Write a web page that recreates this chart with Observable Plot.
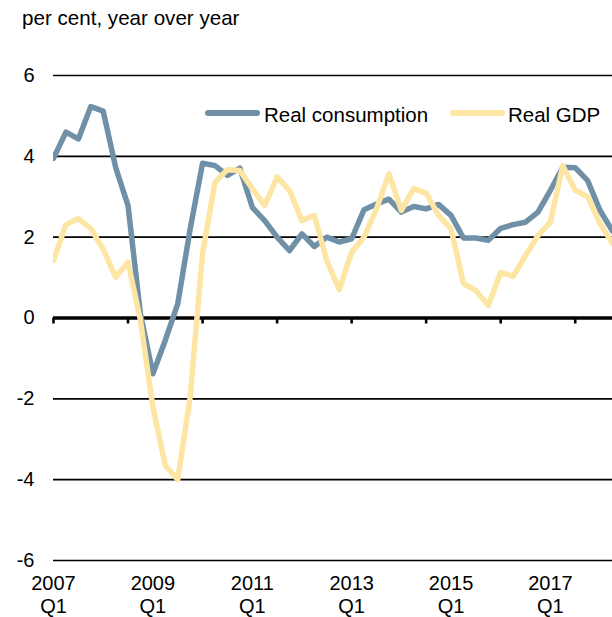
<!DOCTYPE html>
<html>
<head>
<meta charset="utf-8">
<script src="https://cdn.jsdelivr.net/npm/d3@7"></script>
<script src="https://cdn.jsdelivr.net/npm/@observablehq/plot@0.6"></script>
<style>
  html, body { margin: 0; padding: 0; background: #fff; }
  #wrap { position: relative; width: 612px; height: 617px; font-family: "Liberation Sans", Arial, sans-serif; color: #000; overflow: hidden; }
  #title { position: absolute; left: 22px; top: 6px; font-size: 20.6px; line-height: 23px; white-space: nowrap; }
  #chart { position: absolute; left: 0; top: 40px; }
  .lg-sw { position: absolute; height: 6px; border-radius: 3px; }
  .lg-tx { position: absolute; font-size: 20.5px; line-height: 23px; white-space: nowrap; }
</style>
</head>
<body>
<div id="wrap">
  <div id="title">per cent, year over year</div>
  <div id="chart"></div>
  <div id="legend"></div>
</div>
<script>
// ---- data ----
const startYear = 2007;
const nPoints = 46;
const quarters = [];
for (let k = 0; k < nPoints; k++) {
  quarters.push({ year: startYear + Math.floor(k / 4), q: (k % 4) + 1 });
}
const consumption = [3.95, 4.60, 4.43, 5.23, 5.12, 3.73, 2.78, 0.10, -1.38, -0.55,
  0.35, 2.20, 3.83, 3.77, 3.53, 3.71, 2.74, 2.41, 2.00, 1.67,
  2.08, 1.77, 2.00, 1.88, 1.96, 2.68, 2.82, 2.94, 2.62, 2.76,
  2.70, 2.81, 2.54, 1.98, 1.98, 1.92, 2.22, 2.31, 2.37, 2.62,
  3.16, 3.73, 3.72, 3.40, 2.66, 2.15];
const gdp = [1.42, 2.31, 2.46, 2.21, 1.70, 1.01, 1.38, -0.06, -2.20, -3.65,
  -4.00, -1.96, 1.60, 3.36, 3.67, 3.65, 3.20, 2.78, 3.49, 3.16,
  2.41, 2.54, 1.42, 0.70, 1.63, 2.00, 2.70, 3.57, 2.66, 3.20,
  3.09, 2.54, 2.21, 0.85, 0.68, 0.31, 1.13, 1.03, 1.55, 2.04,
  2.37, 3.77, 3.16, 3.00, 2.33, 1.85];
const seriesNames = ["Real consumption", "Real GDP"];
const seriesColors = ["#6f90a6", "#fde5a3"];
const yTicks = [-6, -4, -2, 0, 2, 4, 6];
const labelEvery = 8;   // quarters between x labels
const tickEvery = 6;    // quarters between tick marks on the zero line

// ---- build ----
const rows = quarters.map((d, i) => ({ i, year: d.year, q: d.q, cons: consumption[i], gdp: gdp[i] }));
const labelIdx = rows.filter(d => d.i % labelEvery === 0 && d.i <= 40).map(d => d.i);
const tickIdx = rows.filter(d => d.i % tickEvery === 0).map(d => d.i);

const chart = Plot.plot({
  width: 612,
  height: 577,
  marginLeft: 53,
  marginRight: 0,
  marginTop: 35,
  marginBottom: 57,
  x: { type: "linear", domain: [0, 45], axis: null, label: null },
  y: { domain: [-6, 6], axis: null, label: null },
  style: { fontFamily: '"Liberation Sans", Arial, sans-serif', fontSize: "20px", color: "#000", background: "transparent", overflow: "visible" },
  marks: [
    Plot.ruleY(yTicks.filter(v => v !== 0), { stroke: "#000", strokeWidth: 1.7 }),
    Plot.axisY({ ticks: yTicks, tickSize: 0, tickPadding: 19, fontSize: 20, label: null, tickFormat: d => String(d) }),
    Plot.axisX({ ticks: labelIdx, tickSize: 0, tickPadding: 13, fontSize: 20, lineHeight: 1.15, label: null,
      tickFormat: i => rows[i].year + "\nQ" + rows[i].q }),
    Plot.ruleY([0], { stroke: "#000", strokeWidth: 3.6 }),
    Plot.ruleX(tickIdx, { x: d => d, y1: 0, y2: 0, insetTop: 6, stroke: "#000", strokeWidth: 2.6 }),
    Plot.line(rows, { x: "i", y: "cons", stroke: seriesColors[0], strokeWidth: 5.5, strokeLinejoin: "round", clip: true }),
    Plot.line(rows, { x: "i", y: "gdp", stroke: seriesColors[1], strokeWidth: 5.5, strokeLinejoin: "round", clip: true })
  ]
});
document.getElementById("chart").appendChild(chart);

// ---- legend ----
const legendItems = [
  { name: seriesNames[0], color: seriesColors[0], sx: 205, tx: 264 },
  { name: seriesNames[1], color: seriesColors[1], sx: 450, tx: 508 }
];
const lg = document.getElementById("legend");
legendItems.forEach(it => {
  const sw = document.createElement("div");
  sw.className = "lg-sw";
  sw.style.left = it.sx + "px";
  sw.style.top = "110px";
  sw.style.width = "55px";
  sw.style.background = it.color;
  lg.appendChild(sw);
  const tx = document.createElement("div");
  tx.className = "lg-tx";
  tx.style.left = it.tx + "px";
  tx.style.top = "103px";
  tx.textContent = it.name;
  lg.appendChild(tx);
});
</script>
</body>
</html>
